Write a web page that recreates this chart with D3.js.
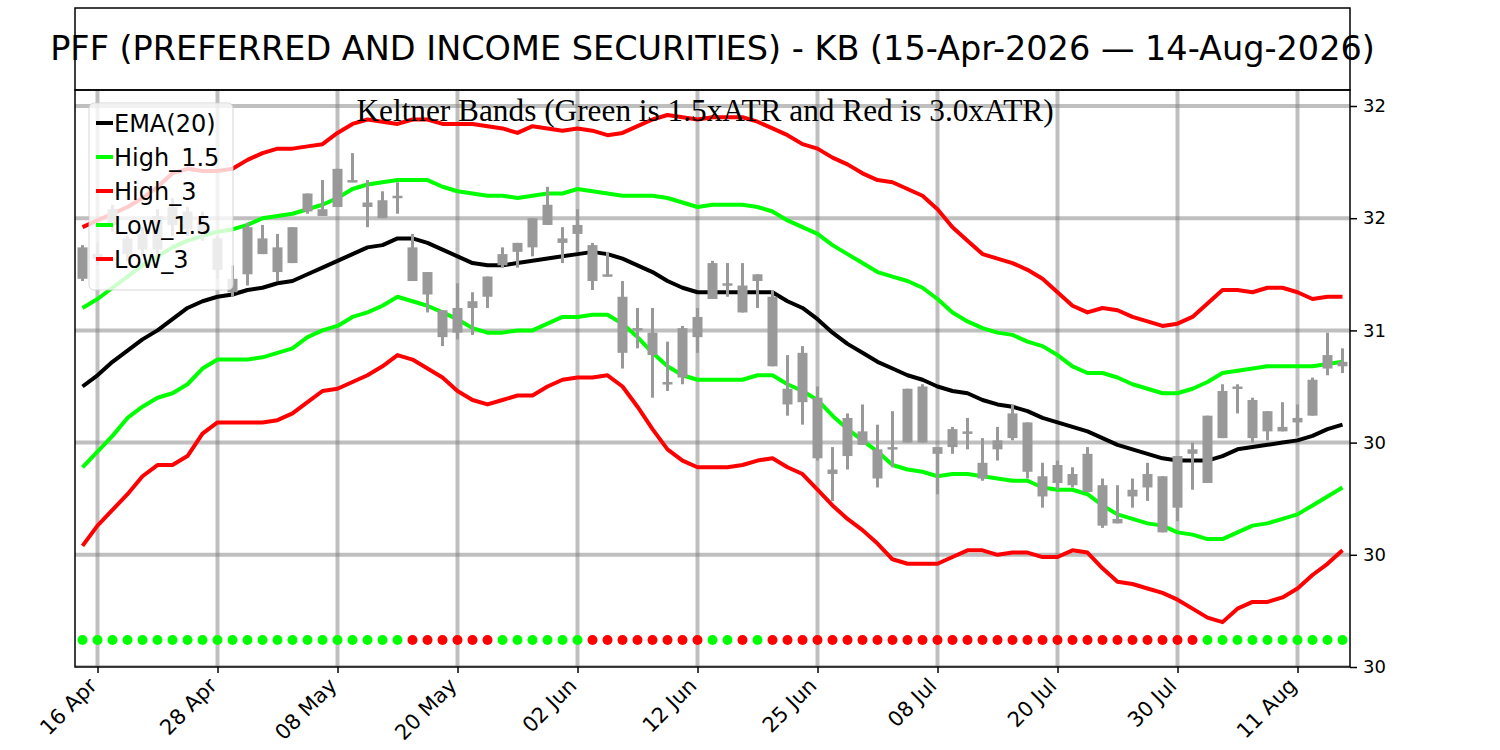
<!DOCTYPE html>
<html>
<head>
<meta charset="utf-8">
<script src="https://cdn.jsdelivr.net/npm/d3@7"></script>
<style>
  body { margin: 0; background: #fff; }
  svg { display: block; }
</style>
</head>
<body>
<div id="chart"></div>
<script>
// Daily candles, 15-Apr-2026 .. 14-Aug-2026 (85 trading days, index based x axis)
const openVals = [
  31.23, 31.34, 31.47, 31.41, 31.36, 31.36, 31.47, 31.53, 31.49, 31.41,
  31.23, 31.25, 31.41, 31.26, 31.30, 31.53, 31.54, 31.55, 31.67, 31.57,
  31.50, 31.59, 31.37, 31.26, 31.09, 30.99, 31.10, 31.15, 31.29, 31.35,
  31.37, 31.47, 31.41, 31.43, 31.38, 31.25, 31.15, 31.00, 30.99, 30.77,
  30.79, 30.97, 31.14, 31.21, 31.20, 31.22, 31.15, 30.67, 30.68, 30.70,
  30.38, 30.44, 30.49, 30.47, 30.48, 30.50, 30.50, 30.48, 30.48, 30.55,
  30.41, 30.47, 30.52, 30.59, 30.35, 30.32, 30.36, 30.28, 30.31, 30.14,
  30.26, 30.30, 30.35, 30.21, 30.45, 30.32, 30.52, 30.74, 30.69, 30.64,
  30.55, 30.59, 30.62, 30.83, 30.86
];
const highVals = [
  31.38, 31.39, 31.56, 31.42, 31.46, 31.54, 31.59, 31.55, 31.53, 31.42,
  31.29, 31.48, 31.47, 31.43, 31.46, 31.61, 31.67, 31.72, 31.79, 31.67,
  31.62, 31.66, 31.43, 31.26, 31.09, 31.21, 31.17, 31.24, 31.37, 31.39,
  31.50, 31.64, 31.46, 31.54, 31.39, 31.35, 31.22, 31.10, 31.10, 30.95,
  31.02, 31.10, 31.31, 31.30, 31.30, 31.25, 31.18, 30.89, 30.93, 30.75,
  30.48, 30.63, 30.67, 30.58, 30.64, 30.74, 30.76, 30.48, 30.57, 30.61,
  30.52, 30.57, 30.67, 30.59, 30.41, 30.42, 30.39, 30.48, 30.34, 30.31,
  30.34, 30.41, 30.35, 30.44, 30.50, 30.62, 30.76, 30.76, 30.70, 30.64,
  30.68, 30.67, 30.79, 30.99, 30.92
];
const lowVals = [
  31.22, 31.29, 31.44, 31.31, 31.33, 31.33, 31.42, 31.42, 31.40, 31.23,
  31.15, 31.20, 31.34, 31.22, 31.30, 31.52, 31.51, 31.55, 31.66, 31.46,
  31.50, 31.52, 31.22, 31.08, 30.93, 30.96, 30.98, 31.10, 31.28, 31.28,
  31.33, 31.47, 31.30, 31.35, 31.18, 31.24, 30.83, 30.92, 30.70, 30.73,
  30.76, 30.90, 31.14, 31.15, 31.08, 31.10, 30.84, 30.62, 30.58, 30.42,
  30.24, 30.38, 30.49, 30.30, 30.39, 30.50, 30.50, 30.27, 30.45, 30.47,
  30.33, 30.42, 30.51, 30.34, 30.21, 30.29, 30.30, 30.28, 30.12, 30.14,
  30.21, 30.24, 30.10, 30.15, 30.29, 30.32, 30.52, 30.63, 30.50, 30.51,
  30.55, 30.53, 30.62, 30.80, 30.81
];
const closeVals = [
  31.37, 31.32, 31.54, 31.34, 31.43, 31.51, 31.55, 31.45, 31.44, 31.27,
  31.17, 31.46, 31.34, 31.37, 31.46, 31.61, 31.51, 31.72, 31.66, 31.55,
  31.58, 31.60, 31.22, 31.16, 30.97, 31.10, 31.13, 31.24, 31.34, 31.39,
  31.50, 31.56, 31.39, 31.47, 31.22, 31.24, 30.90, 31.01, 30.89, 30.76,
  31.01, 31.06, 31.30, 31.20, 31.08, 31.25, 30.84, 30.74, 30.90, 30.43,
  30.36, 30.61, 30.55, 30.34, 30.47, 30.74, 30.75, 30.45, 30.56, 30.54,
  30.34, 30.51, 30.63, 30.37, 30.26, 30.40, 30.31, 30.45, 30.13, 30.16,
  30.29, 30.36, 30.10, 30.44, 30.47, 30.62, 30.73, 30.75, 30.52, 30.55,
  30.57, 30.61, 30.78, 30.89, 30.84
];

// Keltner channel lines
const ema20 = [
  30.75, 30.80, 30.86, 30.91, 30.96, 31.00, 31.05, 31.10, 31.13, 31.15,
  31.16, 31.18, 31.19, 31.21, 31.22, 31.25, 31.28, 31.31, 31.34, 31.37,
  31.38, 31.41, 31.41, 31.39, 31.36, 31.33, 31.30, 31.29, 31.29, 31.30,
  31.31, 31.32, 31.33, 31.34, 31.35, 31.34, 31.32, 31.29, 31.26, 31.22,
  31.19, 31.17, 31.17, 31.17, 31.17, 31.17, 31.17, 31.13, 31.10, 31.05,
  30.99, 30.94, 30.90, 30.86, 30.83, 30.80, 30.78, 30.75, 30.73, 30.72,
  30.69, 30.67, 30.66, 30.64, 30.61, 30.59, 30.57, 30.55, 30.52, 30.49,
  30.47, 30.45, 30.43, 30.42, 30.42, 30.42, 30.44, 30.47, 30.48, 30.49,
  30.50, 30.51, 30.53, 30.56, 30.58
];
const high15 = [
  31.10, 31.14, 31.19, 31.24, 31.29, 31.33, 31.37, 31.40, 31.42, 31.44,
  31.45, 31.47, 31.50, 31.51, 31.52, 31.54, 31.56, 31.59, 31.63, 31.65,
  31.66, 31.67, 31.67, 31.67, 31.64, 31.62, 31.61, 31.60, 31.60, 31.59,
  31.60, 31.61, 31.61, 31.63, 31.62, 31.61, 31.60, 31.60, 31.60, 31.59,
  31.57, 31.55, 31.56, 31.56, 31.56, 31.55, 31.53, 31.49, 31.46, 31.43,
  31.38, 31.34, 31.30, 31.26, 31.24, 31.22, 31.19, 31.14, 31.08, 31.04,
  31.01, 30.99, 30.98, 30.95, 30.93, 30.89, 30.84, 30.81, 30.81, 30.79,
  30.76, 30.74, 30.72, 30.72, 30.74, 30.77, 30.81, 30.82, 30.83, 30.84,
  30.84, 30.84, 30.84, 30.85, 30.86
];
const high3 = [
  31.46, 31.49, 31.52, 31.55, 31.59, 31.64, 31.70, 31.72, 31.71, 31.71,
  31.72, 31.76, 31.79, 31.81, 31.81, 31.82, 31.83, 31.88, 31.92, 31.94,
  31.93, 31.92, 31.94, 31.94, 31.92, 31.92, 31.92, 31.91, 31.90, 31.88,
  31.91, 31.90, 31.89, 31.90, 31.89, 31.87, 31.88, 31.91, 31.94, 31.96,
  31.95, 31.94, 31.95, 31.95, 31.95, 31.93, 31.90, 31.87, 31.83, 31.81,
  31.77, 31.74, 31.70, 31.67, 31.66, 31.63, 31.60, 31.54, 31.46, 31.40,
  31.34, 31.32, 31.30, 31.27, 31.23, 31.17, 31.11, 31.08, 31.10, 31.09,
  31.06, 31.04, 31.02, 31.03, 31.06, 31.12, 31.18, 31.18, 31.17, 31.19,
  31.19, 31.17, 31.14, 31.15, 31.15
];
const low15 = [
  30.39, 30.46, 30.53, 30.61, 30.66, 30.70, 30.72, 30.76, 30.83, 30.87,
  30.87, 30.87, 30.88, 30.90, 30.92, 30.97, 31.00, 31.02, 31.06, 31.08,
  31.11, 31.15, 31.13, 31.11, 31.08, 31.05, 31.01, 30.99, 30.99, 31.00,
  31.00, 31.03, 31.06, 31.06, 31.07, 31.07, 31.03, 30.97, 30.90, 30.84,
  30.80, 30.78, 30.78, 30.78, 30.78, 30.80, 30.80, 30.76, 30.73, 30.69,
  30.62, 30.56, 30.51, 30.46, 30.40, 30.38, 30.37, 30.35, 30.36, 30.36,
  30.35, 30.34, 30.33, 30.33, 30.30, 30.29, 30.29, 30.27, 30.22, 30.18,
  30.16, 30.14, 30.13, 30.10, 30.09, 30.07, 30.07, 30.10, 30.13, 30.14,
  30.16, 30.18, 30.22, 30.26, 30.30
];
const low3 = [
  30.04, 30.13, 30.20, 30.27, 30.35, 30.40, 30.40, 30.44, 30.54, 30.59,
  30.59, 30.59, 30.59, 30.60, 30.63, 30.68, 30.73, 30.74, 30.77, 30.80,
  30.84, 30.89, 30.87, 30.83, 30.79, 30.73, 30.69, 30.67, 30.69, 30.71,
  30.71, 30.75, 30.78, 30.79, 30.79, 30.80, 30.75, 30.66, 30.56, 30.47,
  30.42, 30.39, 30.39, 30.39, 30.40, 30.42, 30.43, 30.39, 30.36, 30.29,
  30.22, 30.16, 30.11, 30.05, 29.98, 29.96, 29.96, 29.96, 29.99, 30.02,
  30.02, 30.00, 30.01, 30.01, 29.99, 29.99, 30.02, 30.01, 29.94, 29.88,
  29.87, 29.85, 29.83, 29.80, 29.76, 29.72, 29.70, 29.76, 29.79, 29.79,
  29.81, 29.85, 29.91, 29.96, 30.02
];

// Signal dots along the bottom: g = green, r = red
const signalFlags = (
  "gggggggggggggggggggggg" + "rrrrrr" + "gggggg" + "rrrrrrrr" +
  "gg" + "r" + "g" + "rrrrrrrrrrrrrrrrrrrrrrrrrrrrr" + "gggggggggg"
).split("");
const signalLevel = 29.62;

const xTickIdx = [1, 9, 17, 25, 33, 41, 49, 57, 65, 73, 81];
const xTickLabels = ["16 Apr", "28 Apr", "08 May", "20 May", "02 Jun", "12 Jun",
                     "25 Jun", "08 Jul", "20 Jul", "30 Jul", "11 Aug"];
const yTickVals = [32.0, 31.5, 31.0, 30.5, 30.0, 29.5];
const yTickLabels = ["32", "32", "31", "30", "30", "30"];

const titleText = "PFF (PREFERRED AND INCOME SECURITIES) - KB (15-Apr-2026 \u2014 14-Aug-2026)";
const subTitleText = "Keltner Bands (Green is 1.5xATR and Red is 3.0xATR)";

const series = [
  { name: "EMA(20)",  values: ema20,  color: "#000000" },
  { name: "High_1.5", values: high15, color: "#00ff00" },
  { name: "High_3",   values: high3,  color: "#ff0000" },
  { name: "Low_1.5",  values: low15,  color: "#00ff00" },
  { name: "Low_3",    values: low3,   color: "#ff0000" }
];

const W = 1500, H = 750;
const box = { left: 75, right: 1350, top: 90, bottom: 667, titleTop: 8 };
const sans = "'DejaVu Sans', 'Liberation Sans', sans-serif";

const svg = d3.select("#chart").append("svg")
    .attr("width", W)
    .attr("height", H);

svg.append("rect").attr("width", W).attr("height", H).attr("fill", "#fff");

const x = d3.scaleLinear().domain([-0.5, closeVals.length - 0.5]).range([box.left, box.right]);
const y = d3.scaleLinear().domain([29.5, 32.0]).range([box.bottom, 106]);

svg.append("defs").append("clipPath").attr("id", "plot-clip")
    .append("rect")
    .attr("x", box.left).attr("y", box.top)
    .attr("width", box.right - box.left).attr("height", box.bottom - box.top);

const g = svg.append("g").attr("clip-path", "url(#plot-clip)");

// grid
g.selectAll(".vgrid")
    .data(xTickIdx)
    .enter().append("line")
    .attr("x1", d => x(d)).attr("x2", d => x(d))
    .attr("y1", box.top).attr("y2", box.bottom)
    .attr("stroke", "#808080").attr("stroke-opacity", 0.5).attr("stroke-width", 4);

g.selectAll(".hgrid")
    .data(yTickVals)
    .enter().append("line")
    .attr("x1", box.left).attr("x2", box.right)
    .attr("y1", d => y(d)).attr("y2", d => y(d))
    .attr("stroke", "#808080").attr("stroke-opacity", 0.5).attr("stroke-width", 4);

// band lines
const lineGen = d3.line()
    .x((d, i) => x(i))
    .y(d => y(d));

g.selectAll(".band")
    .data(series)
    .enter().append("path")
    .attr("class", "band")
    .attr("d", d => lineGen(d.values))
    .attr("fill", "none")
    .attr("stroke", d => d.color)
    .attr("stroke-width", 4)
    .attr("stroke-linejoin", "round");

// candles (all grey)
const candles = closeVals.map((c, i) => ({
    i: i, o: openVals[i], h: highVals[i], l: lowVals[i], c: c
}));

g.selectAll(".wick")
    .data(candles)
    .enter().append("line")
    .attr("x1", d => x(d.i)).attr("x2", d => x(d.i))
    .attr("y1", d => y(d.h)).attr("y2", d => y(d.l))
    .attr("stroke", "#999999")
    .attr("stroke-width", 3);

g.selectAll(".body")
    .data(candles)
    .enter().append("rect")
    .attr("x", d => x(d.i) - 5)
    .attr("width", 10)
    .attr("y", d => y(Math.max(d.o, d.c)))
    .attr("height", d => Math.max(2.5, Math.abs(y(d.o) - y(d.c))))
    .attr("fill", "#999999");

// signal dots
g.selectAll(".sig")
    .data(signalFlags)
    .enter().append("circle")
    .attr("cx", (d, i) => x(i))
    .attr("cy", y(signalLevel))
    .attr("r", 5)
    .attr("fill", d => d === "g" ? "#00ff00" : "#ff0000");

// subtitle inside plot
svg.append("text")
    .attr("x", 705)
    .attr("y", 121)
    .attr("text-anchor", "middle")
    .attr("font-family", "'Liberation Serif', 'DejaVu Serif', serif")
    .attr("font-size", "31.3px")
    .attr("fill", "#000")
    .text(subTitleText);

// legend
const legend = svg.append("g").attr("transform", "translate(89,103)");
legend.append("rect")
    .attr("width", 144).attr("height", 187)
    .attr("rx", 5)
    .attr("fill", "#fff").attr("fill-opacity", 0.8)
    .attr("stroke", "#cccccc").attr("stroke-opacity", 0.8);

const item = legend.selectAll(".item")
    .data(series)
    .enter().append("g")
    .attr("transform", (d, i) => `translate(0, ${20 + i * 34})`);

item.append("line")
    .attr("x1", 7).attr("x2", 24)
    .attr("stroke", d => d.color)
    .attr("stroke-width", 4);

item.append("text")
    .attr("x", 25)
    .attr("dy", "0.36em")
    .attr("font-family", sans)
    .attr("font-size", "24px")
    .attr("fill", "#000")
    .text(d => d.name);

// right axis
const yAxis = svg.append("g")
    .attr("transform", `translate(${box.right},0)`)
    .call(d3.axisRight(y).tickValues(yTickVals).tickFormat((d, i) => yTickLabels[i]).tickSize(7).tickPadding(6));
yAxis.select(".domain").remove();
yAxis.selectAll("line").attr("stroke", "#000").attr("stroke-width", 1.5);
yAxis.selectAll("text").attr("font-family", sans).attr("font-size", "18px").attr("fill", "#000");

// bottom axis
const xAxis = svg.append("g")
    .attr("transform", `translate(0,${box.bottom})`)
    .call(d3.axisBottom(x).tickValues(xTickIdx).tickFormat((d, i) => xTickLabels[i]).tickSize(6));
xAxis.select(".domain").remove();
xAxis.selectAll("line").attr("stroke", "#000").attr("stroke-width", 1.5);
xAxis.selectAll("text")
    .attr("font-family", sans)
    .attr("font-size", "21px")
    .attr("fill", "#000")
    .attr("text-anchor", "end")
    .attr("dy", null)
    .attr("y", null)
    .attr("transform", "translate(0,20) rotate(-45)");

// frames
svg.append("rect")
    .attr("x", box.left).attr("y", box.top)
    .attr("width", box.right - box.left).attr("height", box.bottom - box.top)
    .attr("fill", "none").attr("stroke", "#000").attr("stroke-width", 1.5);

svg.append("rect")
    .attr("x", box.left).attr("y", box.titleTop)
    .attr("width", box.right - box.left).attr("height", box.top - box.titleTop)
    .attr("fill", "none").attr("stroke", "#000").attr("stroke-width", 1.5);

svg.append("text")
    .attr("x", (box.left + box.right) / 2)
    .attr("y", 60)
    .attr("text-anchor", "middle")
    .attr("font-family", sans)
    .attr("font-size", "33.5px")
    .attr("fill", "#000")
    .text(titleText);
</script>
</body>
</html>
